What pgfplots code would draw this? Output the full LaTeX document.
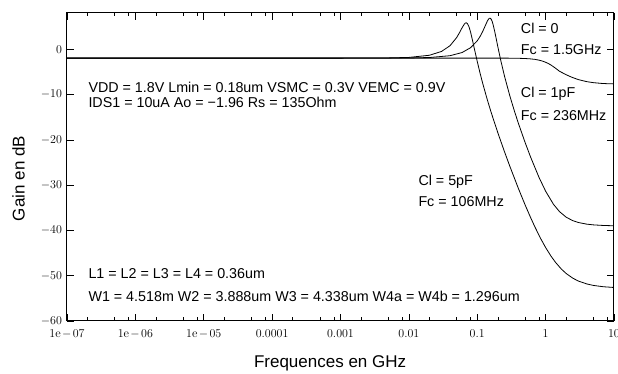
\documentclass[border=0pt]{standalone}
\usepackage{pgfplots}
\usepackage{pgfplotstable}
\pgfplotsset{compat=1.18}
\usepackage{fontspec}
\newfontfamily\arial{Liberation Sans}

\pgfplotstableread{
f g
1e-7 -1.96
0.1 -1.96
0.3 -1.97
0.4 -2.00
0.5 -2.05
0.6 -2.13
0.7 -2.24
0.8 -2.41
0.9 -2.62
1.0 -2.88
1.1 -3.17
1.2 -3.50
1.35 -4.03
1.5 -4.55
1.585 -4.84
1.7 -5.08
2.0 -5.63
2.4 -6.17
3.0 -6.70
4.0 -7.16
5.0 -7.38
6.5 -7.54
8 -7.61
10 -7.65
}\clzero

\pgfplotstableread{
f g
1e-7 -1.96
0.001 -1.96
0.01 -1.93
0.02 -1.83
0.04 -1.43
0.06 -0.73
0.08 0.34
0.1 1.86
0.11 2.82
0.12 3.90
0.13 5.08
0.14 6.16
0.145 6.58
0.15 6.82
0.155 6.84
0.16 6.62
0.165 6.17
0.17 5.53
0.18 3.94
0.19 2.22
0.2 0.56
0.22 -2.37
0.25 -5.91
0.3 -10.33
0.35 -13.67
0.4 -16.37
0.5 -20.55
0.6 -23.73
0.8 -28.29
1.0 -31.34
1.3 -34.22
1.6 -35.87
2 -37.09
2.5 -37.85
3 -38.25
4 -38.62
5 -38.78
7 -38.91
10 -38.98
}\clone

\pgfplotstableread{
f g
1e-7 -1.96
0.001 -1.96
0.005 -1.92
0.01 -1.81
0.02 -1.33
0.03 -0.49
0.04 0.78
0.05 2.58
0.055 3.65
0.06 4.74
0.065 5.59
0.067 5.78
0.069 5.84
0.072 5.65
0.076 4.89
0.08 3.74
0.085 2.05
0.09 0.35
0.1 -2.70
0.11 -5.30
0.12 -7.50
0.14 -11.10
0.16 -13.98
0.2 -18.44
0.25 -22.61
0.3 -25.86
0.4 -30.75
0.5 -34.33
0.6 -37.09
0.7 -39.29
0.85 -41.85
1.0 -43.78
1.2 -45.69
1.4 -47.08
1.7 -48.54
2 -49.52
2.5 -50.55
3 -51.17
4 -51.82
5 -52.15
7 -52.44
10 -52.60
}\clfive

\begin{document}
\begin{tikzpicture}
\begin{axis}[
  scale only axis, width=547pt, height=308pt,
  xmode=log, xmin=1e-7, xmax=10, ymin=-60, ymax=8,
  xtick={1e-7,1e-6,1e-5,1e-4,1e-3,1e-2,1e-1,1,10},
  xticklabels={$1\mathrm{e}\mskip2mu{-}\mskip2mu07$,$1\mathrm{e}\mskip2mu{-}\mskip2mu06$,$1\mathrm{e}\mskip2mu{-}\mskip2mu05$,$0.0001$,$0.001$,$0.01$,$0.1$,$1$,$10$},
  minor xtick={2e-7,5e-7,8e-7,2e-6,5e-6,8e-6,2e-5,5e-5,8e-5,2e-4,5e-4,8e-4,2e-3,5e-3,8e-3,0.02,0.05,0.08,0.2,0.5,0.8,2,5,8},
  ytick={-60,-50,-40,-30,-20,-10,0},
  major tick length=7pt, minor tick length=3.5pt,
  tick style={black, line width=0.6pt},
  axis line style={line width=1pt},
  ticklabel style={font=\fontsize{12.5}{14}\selectfont},
  xticklabel style={yshift=-5.5pt},
  yticklabel style={xshift=-1.5pt},
  xlabel={Frequences en GHz}, ylabel={Gain en dB},
  label style={font=\arial\fontsize{17}{20}\selectfont},
  xlabel style={at={(axis description cs:0.481,-0.136)}, anchor=center},
  ylabel style={at={(axis description cs:-0.0887,0.4627)}, anchor=center},
  clip=true,
]
\addplot[black, line width=0.8pt, no markers] table[x=f,y=g] {\clzero};
\addplot[black, line width=0.8pt, no markers] table[x=f,y=g] {\clone};
\addplot[black, line width=0.8pt, no markers] table[x=f,y=g] {\clfive};

\begin{scope}[every node/.style={anchor=west, inner sep=0pt, font=\arial\fontsize{14.3}{17}\selectfont}]
\node at (axis cs:2.05e-7,-8.37) {VDD = 1.8V Lmin = 0.18um VSMC = 0.3V VEMC = 0.9V};
\node at (axis cs:2.05e-7,-11.68) {IDS1 = 10uA Ao = −1.96 Rs = 135Ohm};
\node at (axis cs:2.05e-7,-49.6) {L1 = L2 = L3 = L4 = 0.36um};
\node at (axis cs:2.05e-7,-54.5) {W1 = 4.518m W2 = 3.888um W3 = 4.338um W4a = W4b = 1.296um};
\node at (axis cs:0.01374,-29.3) {Cl = 5pF};
\node at (axis cs:0.01374,-33.7) {Fc = 106MHz};
\node at (axis cs:0.4325,4.53) {Cl = 0};
\node at (axis cs:0.4325,-0.15) {Fc = 1.5GHz};
\node at (axis cs:0.4325,-9.8) {Cl = 1pF};
\node at (axis cs:0.4325,-14.6) {Fc = 236MHz};
\end{scope}
\end{axis}
\pgfresetboundingbox
\path[use as bounding box] ([shift={(-67pt,-53pt)}]current axis.south west) rectangle ([shift={(4pt,13pt)}]current axis.north east);
\end{tikzpicture}
\end{document}
